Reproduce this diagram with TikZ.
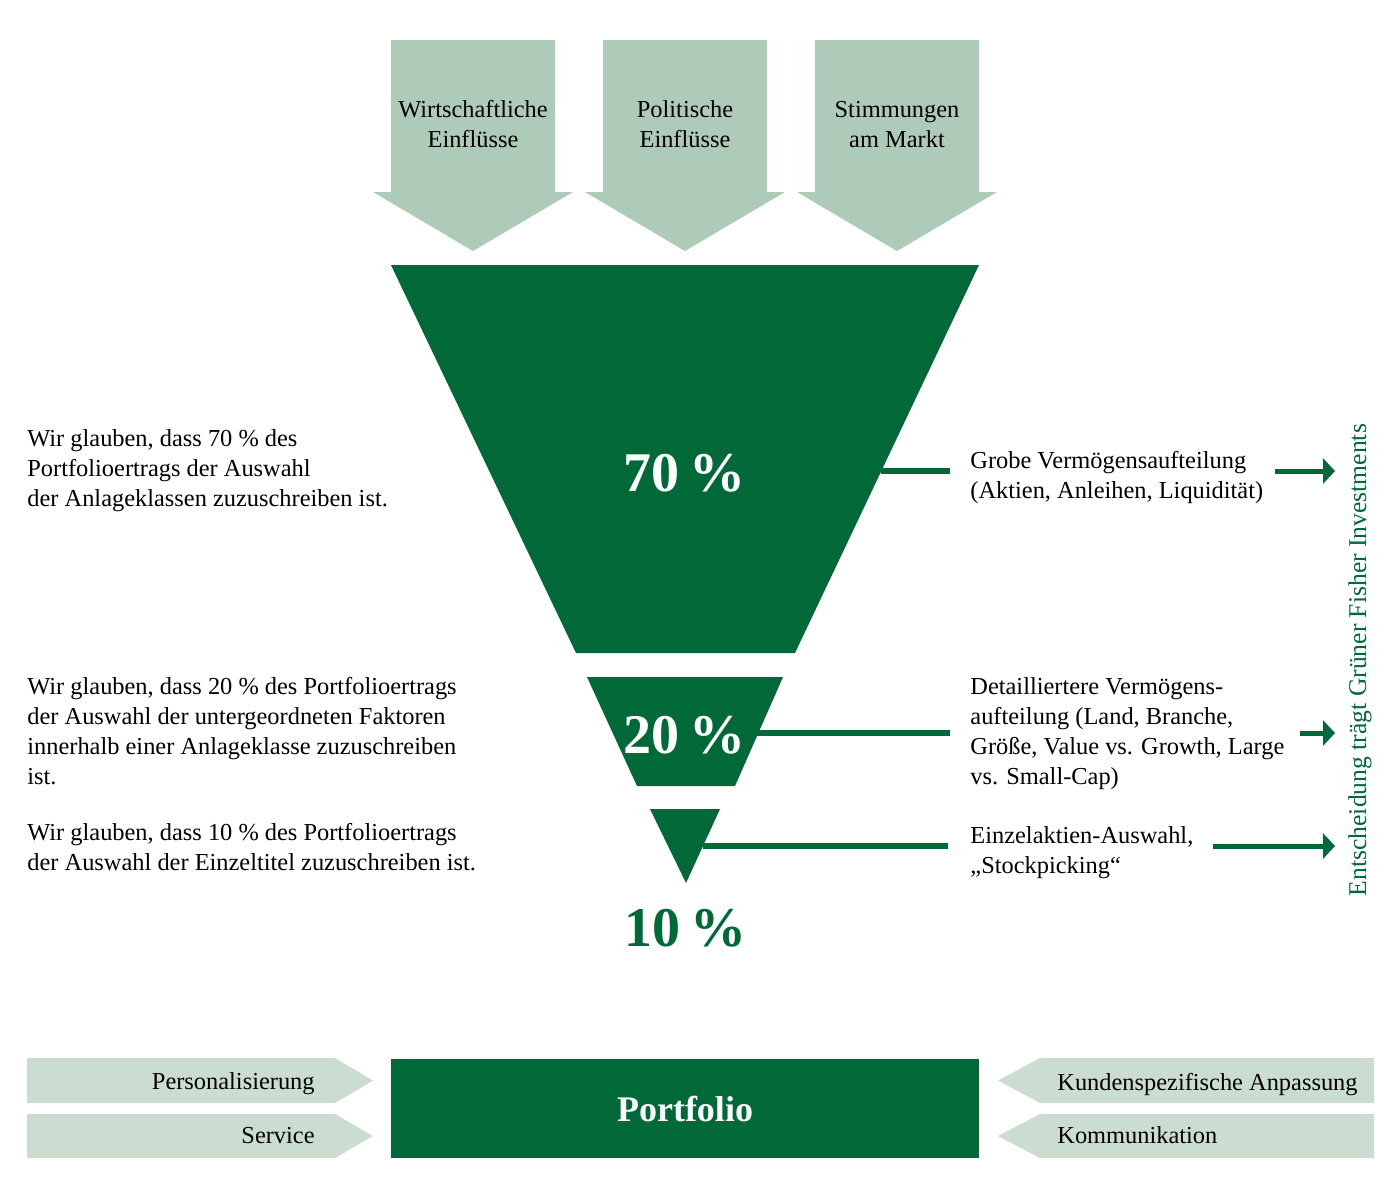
\documentclass[tikz,border=0pt]{standalone}
\usepackage{fontspec}
\setmainfont{Liberation Serif}
\usetikzlibrary{arrows.meta}
\definecolor{fgreen}{HTML}{006937}
\definecolor{sage}{HTML}{AECBB9}
\definecolor{mist}{HTML}{CADDD0}
\begin{document}
\begin{tikzpicture}[x=0.5pt,y=-0.5pt,
  txt/.style={font=\fontsize{12.2}{15}\selectfont, inner sep=0},
  body/.style={txt, align=left, anchor=base west},
  bodyc/.style={txt, align=center, anchor=base},
  big/.style={font=\fontsize{28}{30}\selectfont\bfseries, inner sep=0},
  leader/.style={draw=fgreen, line width=3pt},
  outarrow/.style={draw=fgreen, line width=2.5pt, -{Triangle[length=6pt,width=12.5pt]}},
  influence/.style={fill=sage},
  tab/.style={fill=mist}]
\useasboundingbox (0,0) rectangle (1400,1200);

% influence arrows on top (multi-line nodes are placed by their last baseline)
\foreach \c in {473, 685, 897}{
  \fill[influence] (\c-82,40) -- (\c+82,40) -- (\c+82,192) -- (\c+100,192)
    -- (\c,251) -- (\c-100,192) -- (\c-82,192) -- cycle;
}
\node[bodyc] (inA) at (473,147) {Wirtschaftliche\\Einflüsse};
\node[bodyc] (inB) at (685,147) {Politische\\Einflüsse};
\node[bodyc] (inC) at (897,147) {Stimmungen\\am Markt};

% funnel
\fill[fgreen] (391,265) -- (979,265) -- (795,653) -- (576,653) -- cycle;
\fill[fgreen] (587,677) -- (783,677) -- (735,786) -- (637,786) -- cycle;
\fill[fgreen] (650,809) -- (720,809) -- (686,883) -- cycle;
\node[big, text=white] (p70) at (685,473) {70\hspace{0.18em}\%};
\node[big, text=white] (p20) at (685,735) {20\hspace{0.18em}\%};
\node[big, text=fgreen] (p10) at (686,928) {10\hspace{0.18em}\%};

\coordinate (e70) at (881,471);
\coordinate (e20) at (757,733);
\coordinate (e10) at (703,846);

% left explanations
\node[body] (l70) at (27,506) {Wir glauben, dass 70 \% des\\Portfolioertrags der Auswahl\\der Anlageklassen zuzuschreiben ist.};
\node[body] (l20) at (27,784) {Wir glauben, dass 20 \% des Portfolioertrags\\der Auswahl der untergeordneten Faktoren\\innerhalb einer Anlageklasse zuzuschreiben\\ist.};
\node[body] (l10) at (27,870) {Wir glauben, dass 10 \% des Portfolioertrags\\der Auswahl der Einzeltitel zuzuschreiben ist.};

% right decisions
\node[body] (r70) at (970,498) {Grobe Vermögensaufteilung\\(Aktien, Anleihen, Liquidität)};
\node[body] (r20) at (970,784) {Detailliertere Vermögens-\\aufteilung (Land, Branche,\\Größe, Value vs. Growth, Large\\vs. Small-Cap)};
\node[body] (r10) at (970,873) {Einzelaktien-Auswahl,\\„Stockpicking“};

\coordinate (t70) at (950,471);
\coordinate (t20) at (950,733);
\coordinate (t10) at (948,846);
\draw[leader] (e70) -- (t70);
\draw[leader] (e20) -- (t20);
\draw[leader] (e10) -- (t10);

\coordinate (s70) at (1275,471);
\coordinate (s20) at (1300,733);
\coordinate (s10) at (1213,846);
\coordinate (d70) at (1335,471);
\coordinate (d20) at (1335,733);
\coordinate (d10) at (1335,846);
\draw[outarrow] (s70) -- (d70);
\draw[outarrow] (s20) -- (d20);
\draw[outarrow] (s10) -- (d10);

\node[font=\fontsize{12.8}{15}\selectfont, text=fgreen, rotate=90, inner sep=0] (side) at (1360,660)
  {Entscheidung trägt Grüner Fisher Investments};

% bottom band
\node[fill=fgreen, minimum width=294pt, minimum height=49.5pt, inner sep=0,
  font=\fontsize{18}{20}\selectfont\bfseries, text=white] (port) at (685,1108.5) {Portfolio};

\fill[tab] (27,1058) -- (335,1058) -- (373,1080.5) -- (335,1103) -- (27,1103) -- cycle;
\fill[tab] (27,1114) -- (335,1114) -- (373,1136) -- (335,1158) -- (27,1158) -- cycle;
\fill[tab] (1374,1058) -- (1040,1058) -- (998,1080.5) -- (1040,1103) -- (1374,1103) -- cycle;
\fill[tab] (1374,1114) -- (1040,1114) -- (998,1136) -- (1040,1158) -- (1374,1158) -- cycle;

\node[txt, anchor=base east] (pers) at (315,1089) {Personalisierung};
\node[txt, anchor=base east] (serv) at (315,1143) {Service};
\node[txt, anchor=base west] (kund) at (1057,1090) {Kundenspezifische Anpassung};
\node[txt, anchor=base west] (komm) at (1057,1143) {Kommunikation};
\end{tikzpicture}
\end{document}
